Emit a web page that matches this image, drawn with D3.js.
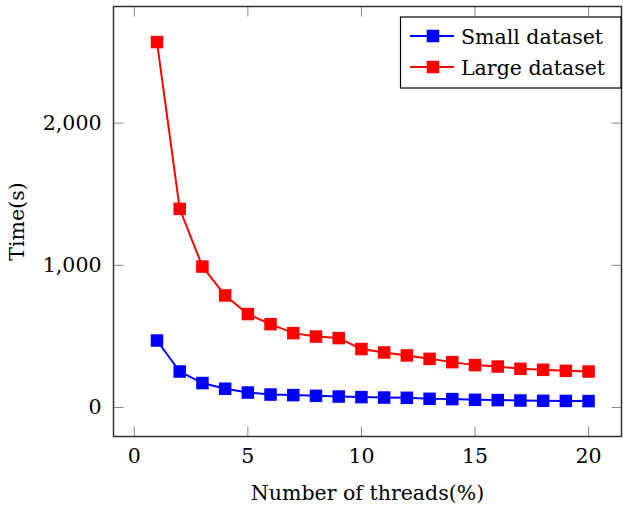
<!DOCTYPE html>
<html>
<head>
<meta charset="utf-8">
<script src="https://cdn.jsdelivr.net/npm/d3@7"></script>
<style>
  body { margin: 0; background: #fff; }
  text { font-family: "DejaVu Serif", "Liberation Serif", serif; fill: #000; }
</style>
</head>
<body>
<svg id="chart" width="623" height="512"></svg>
<script>
// thread counts on the x axis
var threads = [1, 2, 3, 4, 5, 6, 7, 8, 9, 10, 11, 12, 13, 14, 15, 16, 17, 18, 19, 20];
// times in seconds
var smallTimes = [471, 253, 172, 132, 105, 91, 87, 82, 77, 73, 70, 68, 61, 59, 54, 52, 49, 47, 46, 45];
var largeTimes = [2570, 1397, 991, 788, 657, 586, 523, 499, 488, 411, 387, 366, 342, 319, 298, 288, 272, 265, 258, 253];
var seriesNames = ["Small dataset", "Large dataset"];
var seriesColors = ["#0000ff", "#ff0000"];
var xTicks = [0, 5, 10, 15, 20];
var yTicks = [0, 1000, 2000];

var svg = d3.select("#chart");
var plotLeft = 113.5, plotRight = 621.5, plotTop = 6.5, plotBottom = 436.5;
var fs = 20.5;

var x = d3.scaleLinear().domain([-0.915, 21.45]).range([plotLeft, plotRight]);
var y = d3.scaleLinear().domain([-204, 2820]).range([plotBottom, plotTop]);

var tickLen = 10;

// tick marks, inward on all four sides
var g = svg.append("g");
xTicks.forEach(function (t) {
    g.append("line").attr("x1", x(t)).attr("x2", x(t)).attr("y1", plotBottom).attr("y2", plotBottom - tickLen)
        .attr("stroke", "#888").attr("stroke-width", 1);
    g.append("line").attr("x1", x(t)).attr("x2", x(t)).attr("y1", plotTop).attr("y2", plotTop + tickLen)
        .attr("stroke", "#888").attr("stroke-width", 1);
    g.append("text").attr("x", x(t)).attr("y", 463).attr("text-anchor", "middle")
        .attr("font-size", fs).text(d3.format(",")(t));
});
yTicks.forEach(function (t) {
    g.append("line").attr("x1", plotLeft).attr("x2", plotLeft + tickLen).attr("y1", y(t)).attr("y2", y(t))
        .attr("stroke", "#888").attr("stroke-width", 1);
    g.append("line").attr("x1", plotRight).attr("x2", plotRight - tickLen).attr("y1", y(t)).attr("y2", y(t))
        .attr("stroke", "#888").attr("stroke-width", 1);
    g.append("text").attr("x", plotLeft - 12).attr("y", y(t) + 7).attr("text-anchor", "end")
        .attr("font-size", fs).text(d3.format(",")(t));
});

// frame
svg.append("rect").attr("x", plotLeft).attr("y", plotTop).attr("width", plotRight - plotLeft).attr("height", plotBottom - plotTop)
    .attr("fill", "none").attr("stroke", "#333").attr("stroke-width", 1.5);

// axis labels
svg.append("text").attr("x", (plotLeft + plotRight) / 2).attr("y", 500).attr("text-anchor", "middle")
    .attr("font-size", fs).text("Number of threads(%)");
svg.append("text").attr("transform", "translate(24," + (plotTop + plotBottom) / 2 + ") rotate(-90)")
    .attr("text-anchor", "middle").attr("font-size", fs).text("Time(s)");

// series
var line = d3.line().x(function (d) { return x(d[0]); }).y(function (d) { return y(d[1]); });
var ms = 12.5;
[smallTimes, largeTimes].forEach(function (vals, i) {
    var pts = threads.map(function (t, j) { return [t, vals[j]]; });
    svg.append("path").datum(pts).attr("d", line).attr("fill", "none")
        .attr("stroke", seriesColors[i]).attr("stroke-width", 2);
    svg.append("g").selectAll("rect").data(pts).enter().append("rect")
        .attr("x", function (d) { return x(d[0]) - ms / 2; })
        .attr("y", function (d) { return y(d[1]) - ms / 2; })
        .attr("width", ms).attr("height", ms)
        .attr("fill", seriesColors[i]);
});

// legend
var lg = svg.append("g");
lg.append("rect").attr("x", 400.5).attr("y", 17).attr("width", 220.5).attr("height", 71)
    .attr("fill", "#fff").attr("stroke", "#000").attr("stroke-width", 1.2);
seriesNames.forEach(function (name, i) {
    var ly = 36 + i * 31;
    lg.append("line").attr("x1", 410).attr("x2", 454).attr("y1", ly).attr("y2", ly)
        .attr("stroke", seriesColors[i]).attr("stroke-width", 2);
    lg.append("rect").attr("x", 433 - ms / 2).attr("y", ly - ms / 2).attr("width", ms).attr("height", ms)
        .attr("fill", seriesColors[i]);
    lg.append("text").attr("x", 461).attr("y", ly + 7.5).attr("font-size", fs).text(name);
});
</script>
</body>
</html>
